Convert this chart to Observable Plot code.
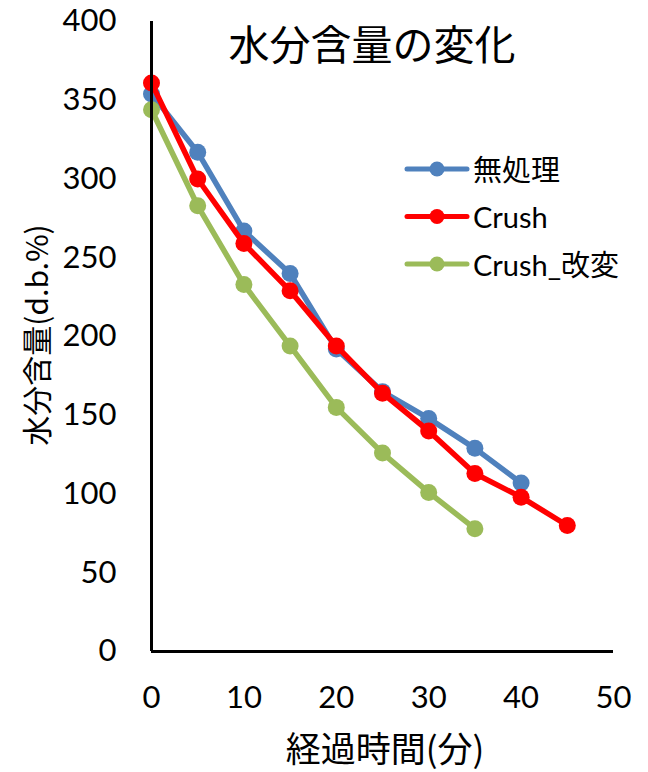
<!DOCTYPE html>
<html>
<head>
<meta charset="utf-8">
<script src="https://cdn.jsdelivr.net/npm/d3@7"></script>
<script src="https://cdn.jsdelivr.net/npm/@observablehq/plot@0.6"></script>
<style>
  html, body { margin: 0; padding: 0; background: #fff; }
  #chart svg { display: block; }
</style>
</head>
<body>
<div id="chart"></div>
<script>
// Drying curves: moisture content (dry basis %) over elapsed minutes
const chartTitle = "水分含量の変化";
const xTitle = "経過時間(分)";
const yTitle = "水分含量(d.b.%)";

const seriesNames = ["無処理", "Crush", "Crush_改変"];
const seriesColors = ["#4F81BD", "#FF0000", "#9BBB59"];

const minutesUntreated = [0, 5, 10, 15, 20, 25, 30, 35, 40];
const moistureUntreated = [354, 317, 267, 240, 192, 165, 148, 129, 107];

const minutesCrush = [0, 5, 10, 15, 20, 25, 30, 35, 40, 45];
const moistureCrush = [361, 300, 259, 229, 194, 164, 140, 113, 98, 80];

const minutesCrushMod = [0, 5, 10, 15, 20, 25, 30, 35];
const moistureCrushMod = [344, 283, 233, 194, 155, 126, 101, 78];

const xTicks = [0, 10, 20, 30, 40, 50];
const yTicks = [0, 50, 100, 150, 200, 250, 300, 350, 400];

const toRows = (name, xs, ys) => xs.map((t, i) => ({series: name, minute: t, moisture: ys[i]}));
const seriesRows = [
  toRows(seriesNames[0], minutesUntreated, moistureUntreated),
  toRows(seriesNames[1], minutesCrush, moistureCrush),
  toRows(seriesNames[2], minutesCrushMod, moistureCrushMod)
];

const fontStack = "Lato, 'Noto Sans CJK JP', sans-serif";
const cjkFont = "'Noto Sans CJK JP', sans-serif";

// each series draws its line, then its markers, in series order
const seriesMarks = seriesRows.flatMap((rows, i) => [
  Plot.line(rows, {x: "minute", y: "moisture", stroke: seriesColors[i], strokeWidth: 5.5,
                   strokeLinejoin: "round", strokeLinecap: "round"}),
  Plot.dot(rows, {x: "minute", y: "moisture", fill: seriesColors[i], r: 8.5, stroke: "none"})
]);

const chart = Plot.plot({
  width: 648,
  height: 772,
  marginLeft: 151,
  marginRight: 35,
  marginTop: 21,
  marginBottom: 121,
  style: {fontFamily: fontStack, fontSize: "31px", color: "#000", background: "#fff"},
  x: {domain: [0, 50]},
  y: {domain: [0, 400]},
  marks: [
    Plot.axisX({ticks: xTicks, tickSize: 0, tickPadding: 34, label: null, fontSize: 31}),
    Plot.axisY({ticks: yTicks, tickSize: 0, tickPadding: 35, label: null, fontSize: 31}),
    ...seriesMarks,
    Plot.ruleX([0], {stroke: "#000", strokeWidth: 3}),
    Plot.ruleY([0], {stroke: "#000", strokeWidth: 3})
  ]
});

const svg = d3.select(chart);

function addText(x, y, str, family, size, transform) {
  const t = svg.append("text")
    .attr("text-anchor", "middle").attr("dominant-baseline", "central")
    .style("font-family", family).style("font-size", size + "px")
    .attr("fill", "#000")
    .text(str);
  if (transform) t.attr("transform", transform);
  else t.attr("x", x).attr("y", y);
  return t;
}

// title and axis titles
addText(372, 42, chartTitle, cjkFont, 41);
addText(385, 746, xTitle, cjkFont, 35);
addText(0, 0, yTitle, cjkFont, 30, "translate(35,335) rotate(-90)");

// legend
seriesNames.forEach((name, i) => {
  const y = 169 + i * 47.5;
  const g = svg.append("g").attr("transform", `translate(0,${y})`);
  g.append("line").attr("x1", 407).attr("x2", 467).attr("y1", 0).attr("y2", 0)
    .attr("stroke", seriesColors[i]).attr("stroke-width", 5).attr("stroke-linecap", "round");
  g.append("circle").attr("cx", 437).attr("cy", 0).attr("r", 7.5).attr("fill", seriesColors[i]);
  g.append("text").attr("x", 473).attr("y", 0)
    .attr("text-anchor", "start").attr("dominant-baseline", "central")
    .style("font-family", fontStack).style("font-size", "29px").attr("fill", "#000")
    .text(name);
});

document.getElementById("chart").appendChild(chart);
</script>
</body>
</html>
